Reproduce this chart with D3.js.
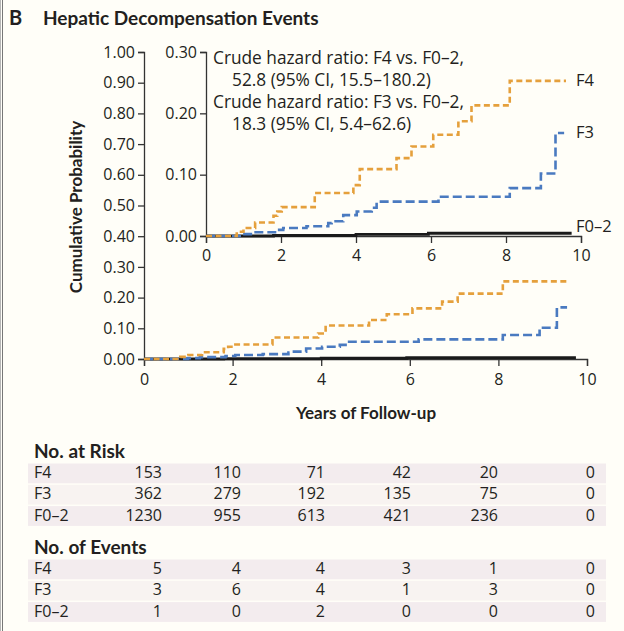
<!DOCTYPE html>
<html>
<head>
<meta charset="utf-8">
<script src="https://cdn.jsdelivr.net/npm/d3@7"></script>
<style>
  body { margin: 0; background: #fffef8; }
  svg { display: block; }
  text { font-family: "Open Sans", Lato, sans-serif; fill: #231f20; }
  text.bold { font-family: Lato, "Open Sans", sans-serif; font-weight: 700; }
</style>
</head>
<body>
<svg id="chart" width="624" height="631"></svg>
<script>
// Cumulative incidence of hepatic decompensation by fibrosis stage
const groups = ["F4", "F3", "F0–2"];
const f4Times  = [0, 0.82, 1.0, 1.31, 1.8, 1.9, 2.02, 2.9, 3.93, 4.1, 5.08, 5.48, 6.06, 6.73, 7.08, 8.1, 9.6];
const f4Values = [0, 0.007, 0.013, 0.022, 0.033, 0.040, 0.047, 0.070, 0.083, 0.109, 0.127, 0.146, 0.165, 0.187, 0.213, 0.253, 0.253];
const f3Times  = [0, 0.99, 1.26, 1.84, 2.06, 2.68, 3.26, 3.35, 3.66, 4.02, 4.42, 4.55, 6.2, 8.1, 8.93, 9.32, 9.55];
const f3Values = [0, 0.003, 0.006, 0.010, 0.013, 0.016, 0.021, 0.024, 0.034, 0.040, 0.046, 0.056, 0.064, 0.078, 0.102, 0.168, 0.168];
const f02Times  = [0, 1.8, 4.0, 5.93, 9.75];
const f02Values = [0, 0.0008, 0.0025, 0.0045, 0.0045];

const mainYTicks = [0, 0.1, 0.2, 0.3, 0.4, 0.5, 0.6, 0.7, 0.8, 0.9, 1.0];
const insetYTicks = [0, 0.1, 0.2, 0.3];
const xTicks = [0, 2, 4, 6, 8, 10];

const hazardNotes = [
  ["Crude hazard ratio: F4 vs. F0–2,", "52.8 (95% CI, 15.5–180.2)"],
  ["Crude hazard ratio: F3 vs. F0–2,", "18.3 (95% CI, 5.4–62.6)"]
];

const riskYears = [0, 2, 4, 6, 8, 10];
const atRiskF4  = [153, 110, 71, 42, 20, 0];
const atRiskF3  = [362, 279, 192, 135, 75, 0];
const atRiskF02 = [1230, 955, 613, 421, 236, 0];
const eventsF4  = [5, 4, 4, 3, 1, 0];
const eventsF3  = [3, 6, 4, 1, 3, 0];
const eventsF02 = [1, 0, 2, 0, 0, 0];

const seriesStyle = {
  "F4":   { color: "#e5a03c", dash: "6,3.5", width: 2.6 },
  "F3":   { color: "#4a7ac0", dash: "9,4",   width: 2.6 },
  "F0–2": { color: "#1a1a1a", dash: null,    width: 2.8 }
};

const curves = [
  { name: "F4",   pts: f4Times.map((t, i) => [t, f4Values[i]]) },
  { name: "F3",   pts: f3Times.map((t, i) => [t, f3Values[i]]) },
  { name: "F0–2", pts: f02Times.map((t, i) => [t, f02Values[i]]) }
];

const svg = d3.select("#chart");
const AX = "#333";

// panel frame on the left edge
svg.append("line").attr("x1", 0.5).attr("x2", 0.5).attr("y1", 0).attr("y2", 631)
  .attr("stroke", "#b5b5b5").attr("stroke-width", 1);
svg.append("line").attr("x1", 2.5).attr("x2", 2.5).attr("y1", 0).attr("y2", 631)
  .attr("stroke", "#777").attr("stroke-width", 1);

// title
svg.append("text").attr("class", "bold").attr("x", 9).attr("y", 25).attr("font-size", 20).text("B");
svg.append("text").attr("class", "bold").attr("x", 43).attr("y", 25).attr("font-size", 19)
  .text("Hepatic Decompensation Events");

// scales
const x = d3.scaleLinear().domain([0, 10]).range([144, 587]);
const y = d3.scaleLinear().domain([0, 1]).range([359, 52]);
const xi = d3.scaleLinear().domain([0, 10]).range([206, 581]);
const yi = d3.scaleLinear().domain([0, 0.3]).range([236, 52]);

function styleAxis(g, size) {
  g.selectAll(".domain").attr("stroke", AX).attr("stroke-width", 1.3);
  g.selectAll(".tick line").attr("stroke", AX).attr("stroke-width", 1.3);
  g.selectAll(".tick text").attr("font-size", size).attr("fill", "#231f20");
}

// main axes
const gy = svg.append("g").attr("transform", "translate(144,0)")
  .call(d3.axisLeft(y).tickValues(mainYTicks).tickFormat(d3.format(".2f")).tickSizeOuter(0).tickSize(6).tickPadding(3));
styleAxis(gy, 16);
const gx = svg.append("g").attr("transform", "translate(0,359)")
  .call(d3.axisBottom(x).tickValues(xTicks).tickFormat(d3.format("d")).tickSizeOuter(0).tickSize(7).tickPadding(8));
styleAxis(gx, 16);

// inset axes
const giy = svg.append("g").attr("transform", "translate(206,0)")
  .call(d3.axisLeft(yi).tickValues(insetYTicks).tickFormat(d3.format(".2f")).tickSizeOuter(0).tickSize(6).tickPadding(3));
styleAxis(giy, 16);
const gix = svg.append("g").attr("transform", "translate(0,236)")
  .call(d3.axisBottom(xi).tickValues(xTicks).tickFormat(d3.format("d")).tickSizeOuter(0).tickSize(7).tickPadding(7));
styleAxis(gix, 16);

// axis titles
svg.append("text").attr("class", "bold").attr("transform", "translate(82,207) rotate(-90)")
  .attr("text-anchor", "middle").attr("font-size", 17).text("Cumulative Probability");
svg.append("text").attr("class", "bold").attr("x", 366).attr("y", 419).attr("text-anchor", "middle")
  .attr("font-size", 17).text("Years of Follow-up");

// curves
function drawCurves(xs, ys) {
  const line = d3.line().x(d => xs(d[0])).y(d => ys(d[1])).curve(d3.curveStepAfter);
  curves.slice().reverse().forEach(c => {
    const s = seriesStyle[c.name];
    svg.append("path").datum(c.pts).attr("d", line).attr("fill", "none")
      .attr("stroke", s.color).attr("stroke-width", s.width)
      .attr("stroke-dasharray", s.dash);
  });
}
drawCurves(x, y);
drawCurves(xi, yi);

// end labels in inset
const labelOffset = { "F4": 5, "F3": 5, "F0–2": -1 };
curves.forEach(c => {
  const last = c.pts[c.pts.length - 1];
  svg.append("text").attr("x", 576).attr("y", yi(last[1]) + labelOffset[c.name])
    .attr("font-size", 16.5).text(c.name);
});

// hazard ratio annotations
hazardNotes.forEach((lines, i) => {
  svg.append("text").attr("x", 213).attr("y", 64 + i * 44).attr("font-size", 17.3).text(lines[0]);
  svg.append("text").attr("x", 232).attr("y", 86 + i * 44).attr("font-size", 17.3).text(lines[1]);
});

// risk table
const colRight = [162, 241, 325, 411, 498, 595];
function drawTable(title, top, rows) {
  svg.append("text").attr("class", "bold").attr("x", 34).attr("y", top).attr("font-size", 19).text(title);
  rows.forEach((r, i) => {
    const base = top + 20 + i * 21.3;
    svg.append("rect").attr("x", 28).attr("y", base - 14.5).attr("width", 578).attr("height", 19.8)
      .attr("fill", i === 1 ? "#f8f3f1" : "#f3ecee");
    svg.append("text").attr("x", 34).attr("y", base).attr("font-size", 16).text(r.name);
    r.vals.forEach((v, j) => {
      svg.append("text").attr("x", colRight[j]).attr("y", base).attr("text-anchor", "end")
        .attr("font-size", 16).text(v);
    });
  });
}
drawTable("No. at Risk", 458, [
  { name: groups[0], vals: atRiskF4 },
  { name: groups[1], vals: atRiskF3 },
  { name: groups[2], vals: atRiskF02 }
]);
drawTable("No. of Events", 554, [
  { name: groups[0], vals: eventsF4 },
  { name: groups[1], vals: eventsF3 },
  { name: groups[2], vals: eventsF02 }
]);
</script>
</body>
</html>
